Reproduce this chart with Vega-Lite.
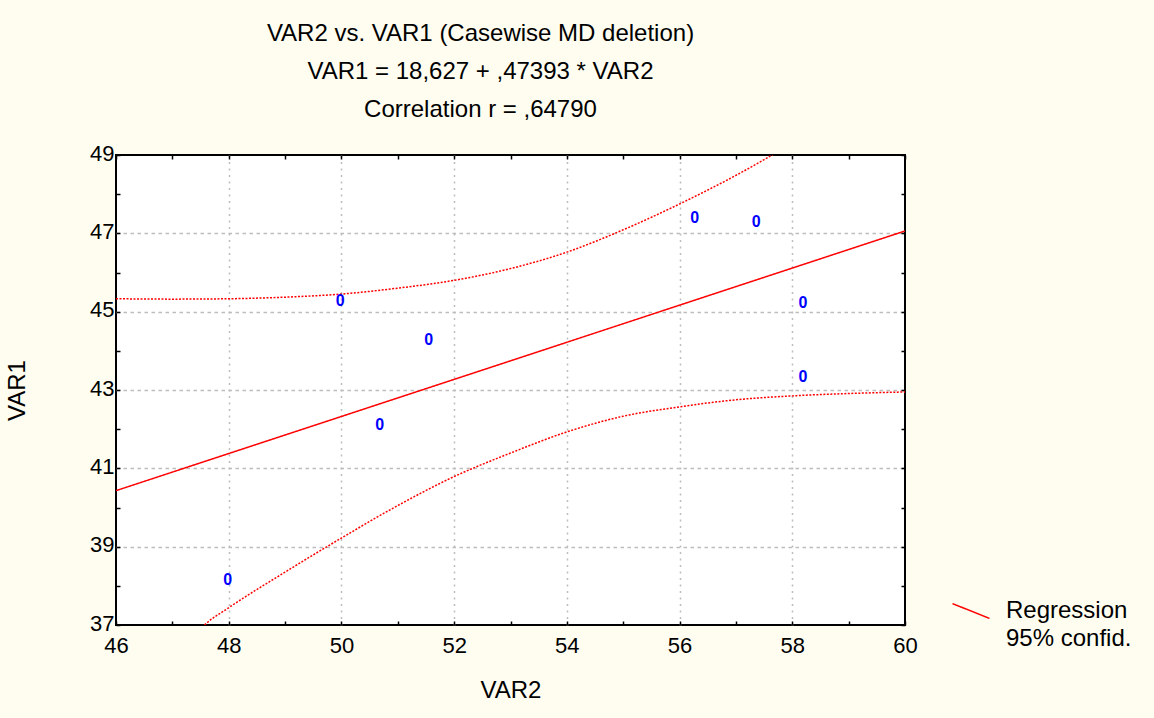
{
  "$schema": "https://vega.github.io/schema/vega-lite/v6.json",
  "width": 789,
  "height": 470,
  "autosize": "none",
  "padding": {"left": 116, "top": 155, "right": 249, "bottom": 93},
  "background": "#FEFDF0",
  "config": {
    "font": "Liberation Sans",
    "view": {"fill": "white", "stroke": "black", "strokeWidth": 2},
    "axis": {
      "domain": false,
      "labelFont": "Liberation Sans",
      "labelFontSize": 22,
      "labelColor": "black",
      "labelFlush": false,
      "titleFont": "Liberation Sans",
      "titleFontSize": 24,
      "titleFontWeight": "normal",
      "titleColor": "black",
      "tickColor": "black",
      "tickWidth": 1.5,
      "gridColor": "#BDBDBD",
      "gridWidth": 1.5
    }
  },
  "title": {
    "text": ["VAR2 vs. VAR1 (Casewise MD deletion)", "VAR1 = 18,627 + ,47393 * VAR2", "Correlation r = ,64790"],
    "fontSize": 24,
    "fontWeight": "normal",
    "font": "Liberation Sans",
    "color": "black",
    "lineHeight": 38,
    "anchor": "middle",
    "frame": "group",
    "baseline": "bottom",
    "offset": -4,
    "dx": -30
  },
  "datasets": {
    "points": [
      {"VAR2": 47.98, "VAR1": 38.15},
      {"VAR2": 49.98, "VAR1": 45.28},
      {"VAR2": 50.68, "VAR1": 42.10},
      {"VAR2": 51.55, "VAR1": 44.28},
      {"VAR2": 56.27, "VAR1": 47.40},
      {"VAR2": 57.36, "VAR1": 47.29},
      {"VAR2": 58.19, "VAR1": 45.22},
      {"VAR2": 58.19, "VAR1": 43.34}
    ],
    "lines": [
      {"series": "Regression", "part": "fit", "VAR2": 46, "VAR1": 40.43},
      {"series": "Regression", "part": "fit", "VAR2": 60, "VAR1": 47.06},
      {"series": "95% confid.", "part": "upper", "VAR2": 46, "VAR1": 45.33},
      {"series": "95% confid.", "part": "upper", "VAR2": 47, "VAR1": 45.32},
      {"series": "95% confid.", "part": "upper", "VAR2": 48, "VAR1": 45.33},
      {"series": "95% confid.", "part": "upper", "VAR2": 49, "VAR1": 45.37},
      {"series": "95% confid.", "part": "upper", "VAR2": 50, "VAR1": 45.45},
      {"series": "95% confid.", "part": "upper", "VAR2": 51, "VAR1": 45.6},
      {"series": "95% confid.", "part": "upper", "VAR2": 52, "VAR1": 45.8},
      {"series": "95% confid.", "part": "upper", "VAR2": 53, "VAR1": 46.1},
      {"series": "95% confid.", "part": "upper", "VAR2": 54, "VAR1": 46.52},
      {"series": "95% confid.", "part": "upper", "VAR2": 55, "VAR1": 47.09},
      {"series": "95% confid.", "part": "upper", "VAR2": 56, "VAR1": 47.75},
      {"series": "95% confid.", "part": "upper", "VAR2": 57, "VAR1": 48.48},
      {"series": "95% confid.", "part": "upper", "VAR2": 58, "VAR1": 49.3},
      {"series": "95% confid.", "part": "lower", "VAR2": 47.2, "VAR1": 36.4},
      {"series": "95% confid.", "part": "lower", "VAR2": 47.57, "VAR1": 37.0},
      {"series": "95% confid.", "part": "lower", "VAR2": 48, "VAR1": 37.44},
      {"series": "95% confid.", "part": "lower", "VAR2": 49, "VAR1": 38.35},
      {"series": "95% confid.", "part": "lower", "VAR2": 50, "VAR1": 39.22},
      {"series": "95% confid.", "part": "lower", "VAR2": 51, "VAR1": 40.05},
      {"series": "95% confid.", "part": "lower", "VAR2": 52, "VAR1": 40.79},
      {"series": "95% confid.", "part": "lower", "VAR2": 53, "VAR1": 41.39},
      {"series": "95% confid.", "part": "lower", "VAR2": 54, "VAR1": 41.93},
      {"series": "95% confid.", "part": "lower", "VAR2": 55, "VAR1": 42.33},
      {"series": "95% confid.", "part": "lower", "VAR2": 56, "VAR1": 42.57},
      {"series": "95% confid.", "part": "lower", "VAR2": 57, "VAR1": 42.75},
      {"series": "95% confid.", "part": "lower", "VAR2": 58, "VAR1": 42.85},
      {"series": "95% confid.", "part": "lower", "VAR2": 59, "VAR1": 42.91},
      {"series": "95% confid.", "part": "lower", "VAR2": 60, "VAR1": 42.95}
    ]
  },
  "resolve": {"axis": {"x": "independent", "y": "independent"}},
  "layer": [
    {
      "data": {"name": "lines"},
      "mark": {"type": "line", "clip": true, "strokeWidth": 1.5, "interpolate": "monotone"},
      "encoding": {
        "x": {
          "field": "VAR2", "type": "quantitative",
          "scale": {"domain": [46, 60], "nice": false, "zero": false},
          "axis": {
            "orient": "bottom",
            "title": "VAR2",
            "values": [46, 47, 48, 49, 50, 51, 52, 53, 54, 55, 56, 57, 58, 59, 60],
            "labelExpr": "datum.value % 2 == 0 ? datum.label : ''",
            "tickSize": -4,
            "labelPadding": 14,
            "titlePadding": 22,
            "grid": true,
            "gridDash": [2, 4.5],
            "gridOpacity": {"condition": {"test": "datum.value % 2 == 0 && datum.value > 46 && datum.value < 60", "value": 1}, "value": 0}
          }
        },
        "y": {
          "field": "VAR1", "type": "quantitative",
          "scale": {"domain": [37, 49], "nice": false, "zero": false},
          "axis": {
            "orient": "left",
            "title": "VAR1",
            "values": [37, 38, 39, 40, 41, 42, 43, 44, 45, 46, 47, 48, 49],
            "labelExpr": "datum.value % 2 == 1 ? datum.label : ''",
            "tickSize": -4,
            "labelPadding": 6,
            "labelOffset": -2,
            "titlePadding": 60,
            "grid": true,
            "gridDash": [3.5, 3.5],
            "gridOpacity": {"condition": {"test": "datum.value % 2 == 1 && datum.value > 37 && datum.value < 49", "value": 1}, "value": 0}
          }
        },
        "color": {
          "field": "series", "type": "nominal",
          "scale": {"domain": ["Regression", "95% confid."], "range": ["#FF0000", "#FF0000"]},
          "legend": {
            "title": null,
            "orient": "none",
            "legendX": 843,
            "legendY": 444,
            "labelFont": "Liberation Sans",
            "labelFontSize": 24,
            "labelColor": "black",
            "labelOffset": 23,
            "rowPadding": 4,
            "symbolType": "M-2,-0.8L2,0.8",
            "symbolSize": 342,
            "symbolStrokeWidth": 1.5,
            "encode": {"symbols": {"update": {"opacity": {"signal": "datum.value === 'Regression' ? 1 : 0"}}}}
          }
        },
        "strokeDash": {
          "field": "series", "type": "nominal",
          "scale": {"domain": ["Regression", "95% confid."], "range": [[1, 0], [2, 1.5]]},
          "legend": null
        },
        "detail": {"field": "part", "type": "nominal"}
      }
    },
    {
      "data": {"name": "points"},
      "mark": {"type": "text", "text": "0", "font": "Liberation Sans", "fontSize": 16, "fontWeight": "bold", "color": "#0000FF", "baseline": "middle", "align": "center"},
      "encoding": {
        "x": {
          "field": "VAR2", "type": "quantitative",
          "axis": {"orient": "top", "title": null, "labels": false, "grid": false,
                   "values": [46, 47, 48, 49, 50, 51, 52, 53, 54, 55, 56, 57, 58, 59, 60], "tickSize": -4}
        },
        "y": {
          "field": "VAR1", "type": "quantitative",
          "axis": {"orient": "right", "title": null, "labels": false, "grid": false,
                   "values": [37, 38, 39, 40, 41, 42, 43, 44, 45, 46, 47, 48, 49], "tickSize": -4}
        }
      }
    }
  ]
}
